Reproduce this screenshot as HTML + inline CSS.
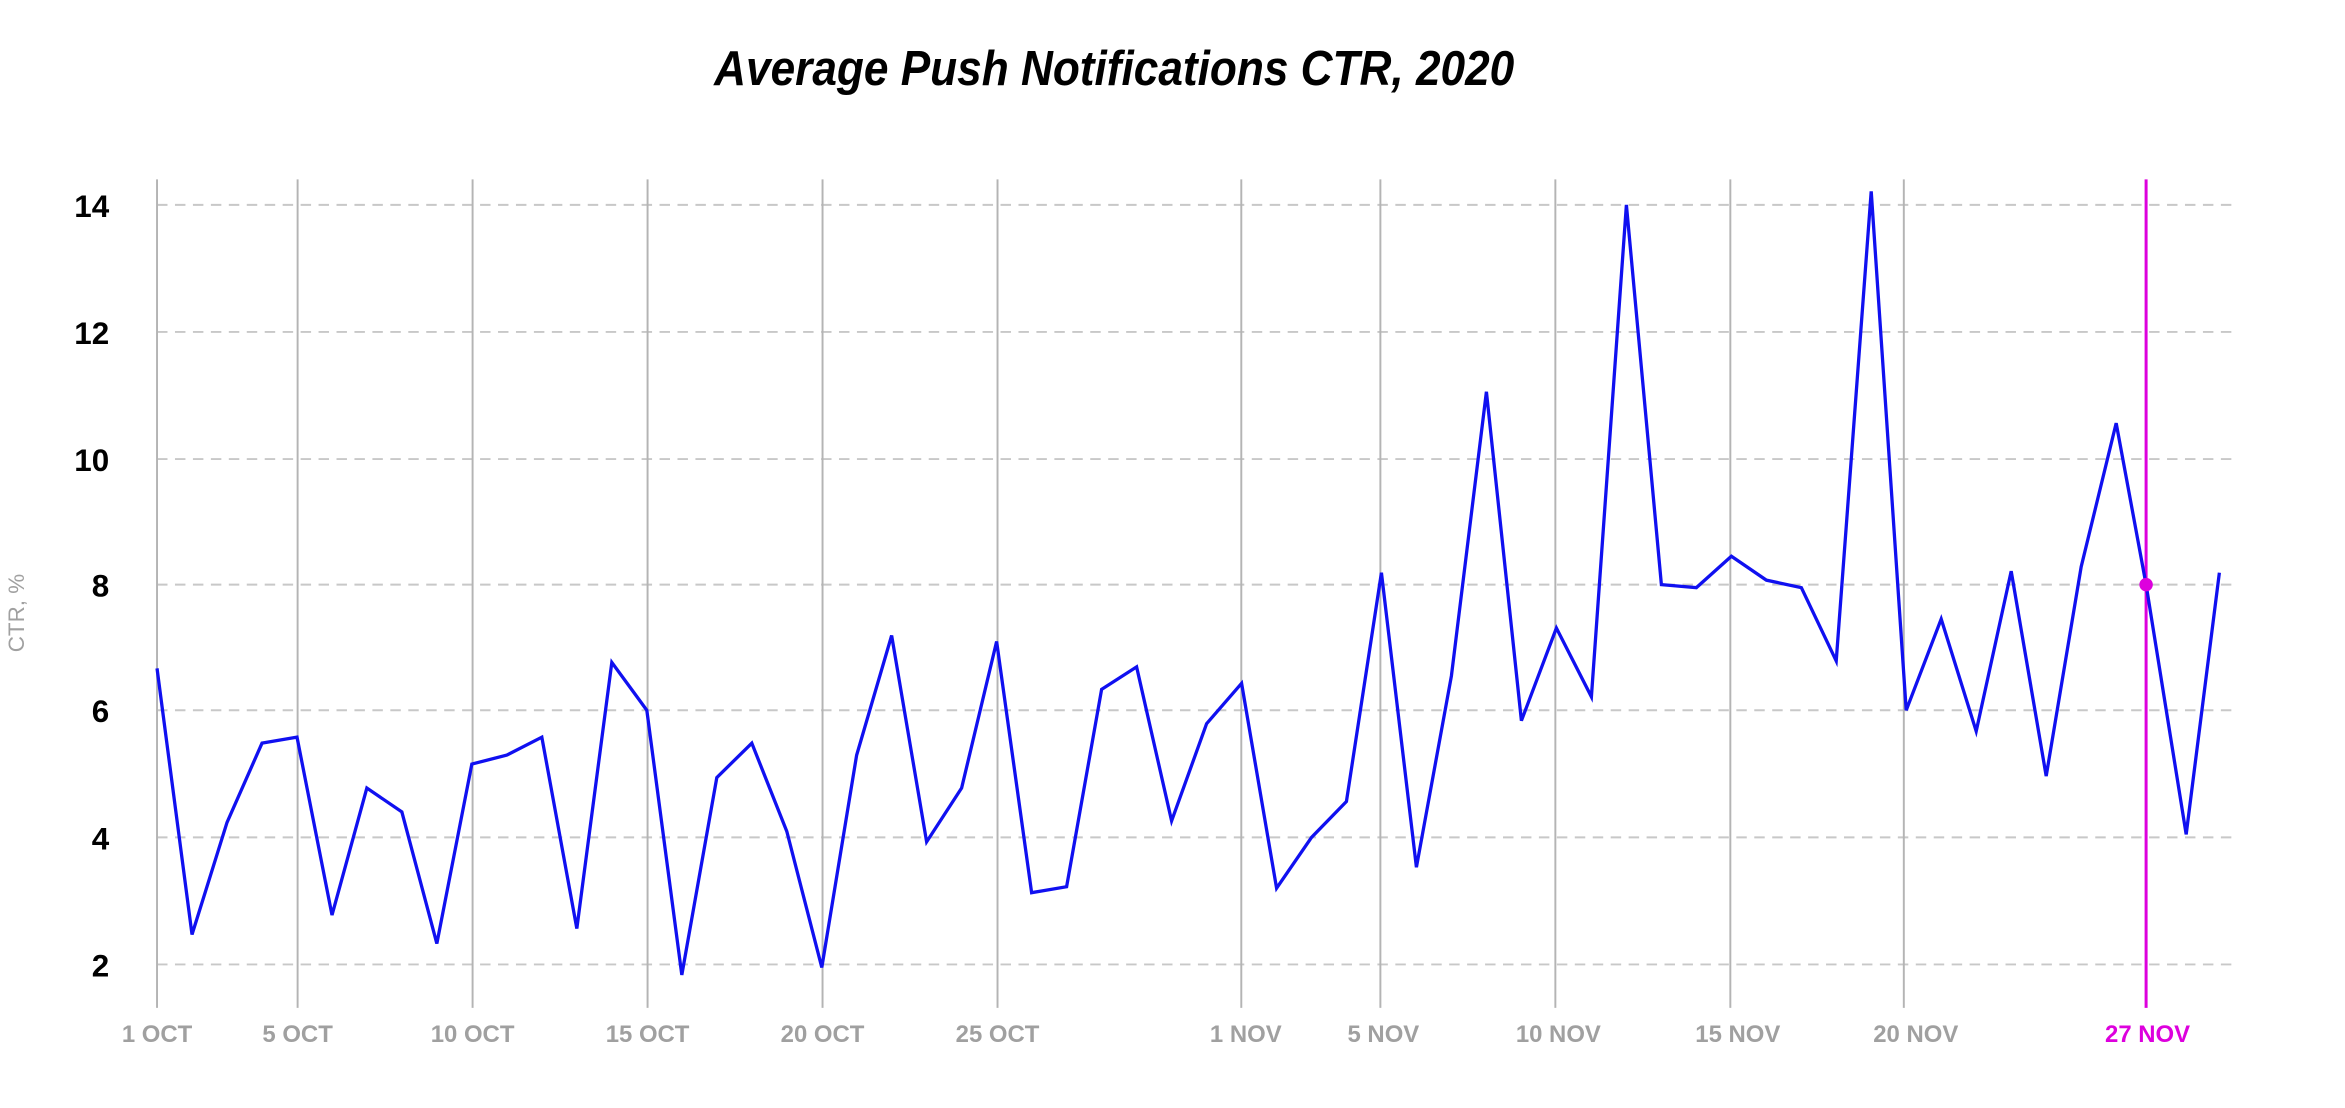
<!DOCTYPE html>
<html><head><meta charset="utf-8"><style>
html,body{margin:0;padding:0;background:#fff;}
svg{display:block;}
</style></head><body>
<svg width="2345" height="1108" viewBox="0 0 1568 741" preserveAspectRatio="none" xmlns="http://www.w3.org/2000/svg">
<rect width="1568" height="741" fill="#fff"/>
<text x="745" y="57" text-anchor="middle" font-family="'Liberation Sans',sans-serif" font-weight="bold" font-style="italic" font-size="33" textLength="535" lengthAdjust="spacingAndGlyphs" fill="#000">Average Push Notifications CTR, 2020</text>
<g stroke="#c8c8c8" stroke-width="1.3" stroke-dasharray="7,5">
<line x1="105" x2="1492" y1="137" y2="137"/>
<line x1="105" x2="1492" y1="222" y2="222"/>
<line x1="105" x2="1492" y1="307" y2="307"/>
<line x1="105" x2="1492" y1="391" y2="391"/>
<line x1="105" x2="1492" y1="475" y2="475"/>
<line x1="105" x2="1492" y1="560" y2="560"/>
<line x1="105" x2="1492" y1="645" y2="645"/>
</g>
<g stroke="#b4b4b4" stroke-width="1.3">
<line x1="105" x2="105" y1="120" y2="674"/>
<line x1="199" x2="199" y1="120" y2="674"/>
<line x1="316" x2="316" y1="120" y2="674"/>
<line x1="433" x2="433" y1="120" y2="674"/>
<line x1="550" x2="550" y1="120" y2="674"/>
<line x1="667" x2="667" y1="120" y2="674"/>
<line x1="830" x2="830" y1="120" y2="674"/>
<line x1="923" x2="923" y1="120" y2="674"/>
<line x1="1040" x2="1040" y1="120" y2="674"/>
<line x1="1157" x2="1157" y1="120" y2="674"/>
<line x1="1273" x2="1273" y1="120" y2="674"/>
</g>
<line x1="1435" x2="1435" y1="120" y2="674" stroke="#dd00dd" stroke-width="2"/>
<g font-family="'Liberation Sans',sans-serif" font-weight="bold" font-size="21" fill="#000" text-anchor="end">
<text x="73" y="145">14</text>
<text x="73" y="230">12</text>
<text x="73" y="315">10</text>
<text x="73" y="399">8</text>
<text x="73" y="483">6</text>
<text x="73" y="568">4</text>
<text x="73" y="653">2</text>
</g>
<text transform="translate(16,410) rotate(-90)" text-anchor="middle" font-family="'Liberation Sans',sans-serif" font-size="15" fill="#a0a0a0">CTR, %</text>
<g font-family="'Liberation Sans',sans-serif" font-weight="bold" font-size="16" fill="#a0a0a0" text-anchor="middle">
<text x="105" y="697">1 OCT</text>
<text x="199" y="697">5 OCT</text>
<text x="316" y="697">10 OCT</text>
<text x="433" y="697">15 OCT</text>
<text x="550" y="697">20 OCT</text>
<text x="667" y="697">25 OCT</text>
<text x="833" y="697">1 NOV</text>
<text x="925" y="697">5 NOV</text>
<text x="1042" y="697">10 NOV</text>
<text x="1162" y="697">15 NOV</text>
<text x="1281" y="697">20 NOV</text>
<text x="1436" y="697" fill="#dd00dd">27 NOV</text>
</g>
<polyline fill="none" stroke="#1010f0" stroke-width="2.2" stroke-linejoin="miter" points="
105,447 128.4,625 151.8,550 175.2,497 198.6,493 222,612 245.3,527 268.7,543 292.1,631 315.5,511
338.9,505 362.3,493 385.7,621 409.1,443 432.5,475 455.9,652 479.3,520 502.7,497 526.1,556 549.5,647
572.8,505 596.2,425 619.6,563 643,527 666.4,429 689.8,597 713.2,593 736.6,461 760,446 783.4,549
806.8,484 830.2,457 853.6,594 877,560 900.3,536 923.7,383 947.1,580 970.5,452 993.9,262 1017.3,482
1040.7,420 1064.1,466 1087.5,137 1110.9,391 1134.3,393 1157.7,372 1181.1,388 1204.5,393 1227.8,442 1251.2,128
1274.6,475 1298,414 1321.4,489 1344.8,382 1368.2,519 1391.6,379 1415,283 1435,391 1461.8,558 1484,383"/>
<circle cx="1435" cy="391" r="4.5" fill="#dd00dd"/>
</svg>
</body></html>
